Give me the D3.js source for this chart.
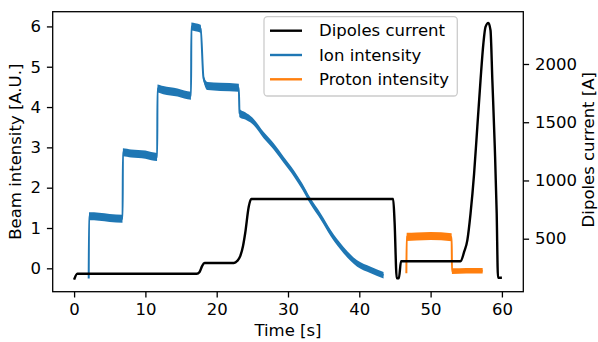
<!DOCTYPE html>
<html>
<head>
<meta charset="utf-8">
<script src="https://cdn.jsdelivr.net/npm/d3@7"></script>
<style>
  body { margin: 0; background: #fff; }
  svg text { font-family: "DejaVu Sans", sans-serif; }
</style>
</head>
<body>
<svg id="chart" width="598" height="342"></svg>
<script>
// Data
const xTicks = [0, 10, 20, 30, 40, 50, 60];
const leftTicks = [0, 1, 2, 3, 4, 5, 6];
const rightTicks = [500, 1000, 1500, 2000];

// Dipoles current [A] (right axis)
const dipoleTime  = [0, 0.45, 17.2, 17.6, 17.95, 18.3, 22.4, 22.9, 23.3, 23.7, 24.0, 24.5, 24.85,
                     44.75, 44.95, 45.25, 45.55, 45.85, 54.2, 54.7, 55.15, 55.6, 56.1, 56.55, 57.0,
                     57.4, 57.7, 58.1, 58.4, 58.66, 59.0, 59.27, 59.45, 60.0];
const dipoleValue = [148, 199, 199, 215, 265, 291, 291, 310, 350, 440, 549, 777, 841,
                     841, 640, 160, 160, 306, 306, 386, 486, 715, 1058, 1460, 1860,
                     2175, 2319, 2353, 2290, 1860, 1288, 715, 165, 165];

// Ion intensity [A.U.] (left axis), with half width of its noise band
const ionTime  = [2.05, 2.1, 3.5, 5.0, 6.8, 6.85, 8.0, 10.0, 11.65, 11.7, 12.5, 14.5, 16.4,
                  16.45, 17.0, 17.75, 18.15, 18.7, 20.5, 23.1, 23.2, 24.0, 25.0, 26.6, 28.0,
                  29.4, 30.8, 32.0, 33.1, 34.6, 36.0, 37.8, 39.7, 41.6, 43.4];
const ionValue = [-0.25, 1.29, 1.28, 1.25, 1.23, 2.88, 2.85, 2.82, 2.76, 4.46, 4.42, 4.36, 4.28,
                  6.0, 5.98, 5.94, 4.72, 4.52, 4.50, 4.48, 3.85, 3.78, 3.66, 3.30, 3.02,
                  2.69, 2.36, 2.03, 1.68, 1.28, 0.87, 0.45, 0.12, -0.04, -0.17];
const ionNoise = [0, 0.1, 0.1, 0.1, 0.1, 0.1, 0.1, 0.1, 0.1, 0.1, 0.1, 0.1, 0.1,
                  0.1, 0.1, 0.1, 0.08, 0.1, 0.1, 0.1, 0.1, 0.09, 0.08, 0.08, 0.08,
                  0.08, 0.08, 0.08, 0.08, 0.08, 0.08, 0.08, 0.08, 0.08, 0.08];

// Proton intensity [A.U.] (left axis)
const protonTime  = [46.6, 46.65, 48.0, 50.0, 52.95, 53.0, 55.0, 57.3];
const protonValue = [-0.12, 0.78, 0.79, 0.80, 0.77, -0.07, -0.06, -0.06];
const protonNoise = [0, 0.1, 0.1, 0.1, 0.1, 0.07, 0.07, 0.07];

const legendLabels = ["Dipoles current", "Ion intensity", "Proton intensity"];
const colors = ["#000000", "#1f77b4", "#ff7f0e"];

const width = 598;
const height = 342;
const margin = { top: 11.7, right: 74.7, bottom: 50.3, left: 52.7 };
const fontSize = 16.5;
const tick = 5.8;

const svg = d3.select("#chart");

// Scales
const x = d3.scaleLinear()
    .domain([-3, 63])
    .range([margin.left, width - margin.right]);

const yLeft = d3.scaleLinear()
    .domain([-0.58, 6.365])
    .range([height - margin.bottom, margin.top]);

const yRight = d3.scaleLinear()
    .domain([45, 2449])
    .range([height - margin.bottom, margin.top]);

// Build point lists
const ion = ionTime.map((t, i) => ({ t, v: ionValue[i], n: ionNoise[i] }));
const proton = protonTime.map((t, i) => ({ t, v: protonValue[i], n: protonNoise[i] }));
const dipole = dipoleTime.map((t, i) => ({ t, v: dipoleValue[i] }));

const band = d3.area()
    .x(d => x(d.t))
    .y0(d => yLeft(d.v - d.n))
    .y1(d => yLeft(d.v + d.n))
    .curve(d3.curveMonotoneX);

const leftLine = d3.line()
    .x(d => x(d.t))
    .y(d => yLeft(d.v))
    .curve(d3.curveMonotoneX);

const rightLine = d3.line()
    .x(d => x(d.t))
    .y(d => yRight(d.v))
    .curve(d3.curveMonotoneX);

// Noisy beam signals: band + centre line
[[ion, colors[1]], [proton, colors[2]]].forEach(([data, c]) => {
    svg.append("path")
        .datum(data)
        .attr("fill", c)
        .attr("d", band);
    svg.append("path")
        .datum(data)
        .attr("fill", "none")
        .attr("stroke", c)
        .attr("stroke-width", 2)
        .attr("d", leftLine);
});

// Dipoles current on the twin axis
svg.append("path")
    .datum(dipole)
    .attr("fill", "none")
    .attr("stroke", colors[0])
    .attr("stroke-width", 2.4)
    .attr("stroke-linejoin", "round")
    .attr("d", rightLine);

// Axes
function styleAxis(g) {
    g.select(".domain").remove();
    g.selectAll(".tick line").attr("stroke", "#000").attr("stroke-width", 1.3);
    g.selectAll(".tick text")
        .attr("fill", "#000")
        .style("font-size", fontSize + "px")
        .style("font-family", "DejaVu Sans");
}

const fmt = d3.format("d");

svg.append("g")
    .attr("transform", `translate(0,${height - margin.bottom})`)
    .call(d3.axisBottom(x).tickValues(xTicks).tickFormat(fmt).tickSize(tick).tickPadding(tick))
    .call(styleAxis);

svg.append("g")
    .attr("transform", `translate(${margin.left},0)`)
    .call(d3.axisLeft(yLeft).tickValues(leftTicks).tickFormat(fmt).tickSize(tick).tickPadding(tick))
    .call(styleAxis);

svg.append("g")
    .attr("transform", `translate(${width - margin.right},0)`)
    .call(d3.axisRight(yRight).tickValues(rightTicks).tickFormat(fmt).tickSize(tick).tickPadding(tick))
    .call(styleAxis);

// Spines
svg.append("rect")
    .attr("x", margin.left)
    .attr("y", margin.top)
    .attr("width", width - margin.left - margin.right)
    .attr("height", height - margin.top - margin.bottom)
    .attr("fill", "none")
    .attr("stroke", "#000")
    .attr("stroke-width", 1.3);

// Axis labels
const midY = (margin.top + height - margin.bottom) / 2;

svg.append("text")
    .attr("x", (margin.left + width - margin.right) / 2)
    .attr("y", 336)
    .attr("text-anchor", "middle")
    .style("font-size", fontSize + "px")
    .text("Time [s]");

svg.append("text")
    .attr("transform", `translate(21,${midY}) rotate(-90)`)
    .attr("text-anchor", "middle")
    .style("font-size", fontSize + "px")
    .text("Beam intensity [A.U.]");

svg.append("text")
    .attr("transform", `translate(594,${midY - 2}) rotate(-90)`)
    .attr("text-anchor", "middle")
    .style("font-size", fontSize + "px")
    .text("Dipoles current [A]");

// Legend
const legend = svg.append("g").attr("transform", "translate(264,16.7)");

legend.append("rect")
    .attr("width", 193.3)
    .attr("height", 79.3)
    .attr("rx", 3.5)
    .attr("fill", "#fff")
    .attr("fill-opacity", 0.8)
    .attr("stroke", "#cccccc")
    .attr("stroke-width", 1.3);

legendLabels.forEach((label, i) => {
    const ly = 14 + i * 24.3;
    legend.append("line")
        .attr("x1", 6)
        .attr("x2", 38)
        .attr("y1", ly)
        .attr("y2", ly)
        .attr("stroke", colors[i])
        .attr("stroke-width", 2.4);
    legend.append("text")
        .attr("x", 55)
        .attr("y", ly)
        .attr("dy", "0.35em")
        .style("font-size", fontSize + "px")
        .text(label);
});
</script>
</body>
</html>
